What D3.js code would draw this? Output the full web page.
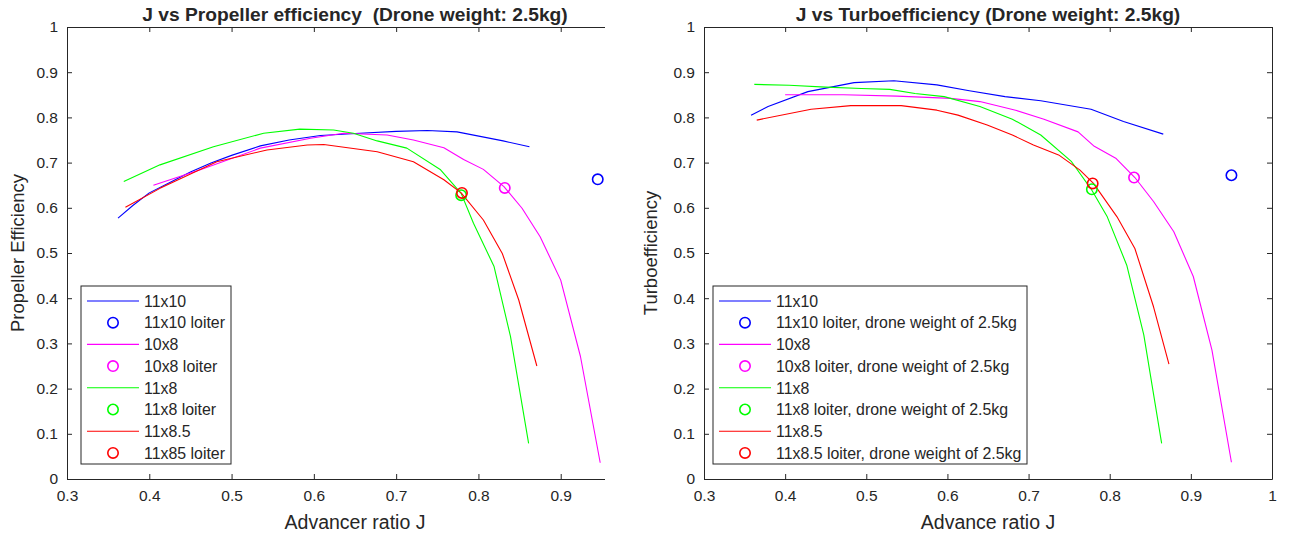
<!DOCTYPE html>
<html>
<head>
<meta charset="utf-8">
<script src="https://cdn.jsdelivr.net/npm/d3@7"></script>
<style>
  body { margin: 0; background: #fff; }
  svg { display: block; font-family: "Liberation Sans", Arial, sans-serif; }
</style>
</head>
<body>
<svg id="chart" width="1290" height="535"></svg>
<script>
// Advance ratio J vs propeller efficiency, drone weight 2.5 kg
const prop11x10 = [[0.362,0.577],[0.38,0.605],[0.40,0.633],[0.425,0.656],[0.45,0.679],[0.475,0.699],[0.50,0.716],[0.535,0.737],[0.57,0.750],[0.608,0.760],[0.656,0.765],[0.70,0.769],[0.738,0.771],[0.774,0.768],[0.802,0.758],[0.83,0.748],[0.862,0.735]];
const prop10x8 = [[0.405,0.650],[0.462,0.684],[0.535,0.732],[0.596,0.754],[0.636,0.765],[0.689,0.761],[0.721,0.750],[0.758,0.733],[0.782,0.707],[0.806,0.685],[0.831,0.647],[0.853,0.599],[0.875,0.536],[0.90,0.440],[0.924,0.271],[0.948,0.036]];
const prop11x8 = [[0.369,0.658],[0.413,0.695],[0.478,0.735],[0.539,0.765],[0.583,0.774],[0.624,0.772],[0.648,0.765],[0.677,0.748],[0.713,0.732],[0.754,0.684],[0.779,0.632],[0.794,0.566],[0.819,0.470],[0.839,0.315],[0.861,0.079]];
const prop11x85 = [[0.371,0.601],[0.413,0.643],[0.482,0.702],[0.543,0.728],[0.592,0.739],[0.612,0.740],[0.677,0.724],[0.721,0.702],[0.758,0.662],[0.779,0.633],[0.806,0.573],[0.829,0.499],[0.849,0.396],[0.871,0.250]];
const propLoiter = [[0.945,0.663],[0.832,0.644],[0.779,0.628],[0.780,0.633]];

// Advance ratio J vs turboefficiency, drone weight 2.5 kg
const turbo11x10 = [[0.358,0.805],[0.379,0.824],[0.428,0.857],[0.485,0.877],[0.534,0.881],[0.587,0.872],[0.627,0.859],[0.671,0.846],[0.715,0.837],[0.777,0.818],[0.817,0.791],[0.866,0.763]];
const turbo10x8 = [[0.400,0.850],[0.472,0.850],[0.538,0.847],[0.604,0.842],[0.640,0.835],[0.684,0.816],[0.719,0.796],[0.761,0.768],[0.781,0.736],[0.808,0.709],[0.831,0.667],[0.854,0.614],[0.879,0.547],[0.903,0.448],[0.926,0.285],[0.950,0.037]];
const turbo11x8 = [[0.362,0.873],[0.405,0.871],[0.450,0.867],[0.494,0.864],[0.529,0.862],[0.560,0.853],[0.596,0.846],[0.640,0.824],[0.680,0.796],[0.715,0.761],[0.753,0.702],[0.778,0.639],[0.797,0.580],[0.821,0.473],[0.842,0.319],[0.864,0.079]];
const turbo11x85 = [[0.365,0.794],[0.432,0.818],[0.481,0.826],[0.543,0.826],[0.587,0.816],[0.613,0.805],[0.649,0.783],[0.680,0.761],[0.706,0.739],[0.737,0.717],[0.763,0.684],[0.780,0.654],[0.809,0.580],[0.831,0.510],[0.854,0.381],[0.873,0.254]];
const turboLoiter = [[0.950,0.672],[0.830,0.667],[0.778,0.641],[0.779,0.654]];

const seriesColors = ["#0000ff", "#ff00ff", "#00ff00", "#ff0000"];
const yTicks = [0, 0.1, 0.2, 0.3, 0.4, 0.5, 0.6, 0.7, 0.8, 0.9, 1];
const xTicks = [0.3, 0.4, 0.5, 0.6, 0.7, 0.8, 0.9, 1];
const legendLeft = ["11x10", "11x10 loiter", "10x8", "10x8 loiter", "11x8", "11x8 loiter", "11x8.5", "11x85 loiter"];
const legendRight = ["11x10", "11x10 loiter, drone weight of 2.5kg", "10x8", "10x8 loiter, drone weight of 2.5kg", "11x8", "11x8 loiter, drone weight of 2.5kg", "11x8.5", "11x8.5 loiter, drone weight of 2.5kg"];

const ink = "#262626";
const svg = d3.select("#chart");

function panel(opt) {
  const x = d3.scaleLinear().domain([0.3, 1]).range([opt.left, opt.right]);
  const y = d3.scaleLinear().domain([0, 1]).range([479, 27]);
  const g = svg.append("g");

  // the left panel is cut off on its right side
  const clipId = "clip-" + opt.id;
  svg.append("clipPath").attr("id", clipId).append("rect")
    .attr("x", 0).attr("y", 0).attr("width", opt.clipRight).attr("height", 535);
  const body = g.append("g").attr("clip-path", `url(#${clipId})`);

  // axes with inward ticks
  const styleAxis = sel => {
    sel.select(".domain").attr("stroke", ink).attr("stroke-width", 1);
    sel.selectAll(".tick line").attr("stroke", ink);
    sel.selectAll(".tick text").attr("fill", ink).attr("font-size", 15.5)
      .attr("font-family", "Liberation Sans, Arial, sans-serif");
  };
  body.append("g").attr("transform", `translate(0,${y(0)})`)
    .call(d3.axisBottom(x).tickValues(xTicks).tickSize(-5).tickSizeOuter(0).tickPadding(11).tickFormat(d3.format("")))
    .call(styleAxis);
  body.append("g").attr("transform", `translate(0,${y(1)})`)
    .call(d3.axisTop(x).tickValues(xTicks).tickSize(-5).tickSizeOuter(0).tickFormat(""))
    .call(styleAxis);
  body.append("g").attr("transform", `translate(${opt.left},0)`)
    .call(d3.axisLeft(y).tickValues(yTicks).tickSize(-5).tickSizeOuter(0).tickPadding(9).tickFormat(d3.format("")))
    .call(styleAxis);
  body.append("g").attr("transform", `translate(${opt.right},0)`)
    .call(d3.axisRight(y).tickValues(yTicks).tickSize(-5).tickSizeOuter(0).tickFormat(""))
    .call(styleAxis);

  // curves
  const line = d3.line().x(d => x(d[0])).y(d => y(d[1]));
  opt.curves.forEach((c, i) => {
    body.append("path").datum(c).attr("d", line)
      .attr("fill", "none").attr("stroke", seriesColors[i]).attr("stroke-width", 1.1)
      .attr("stroke-linejoin", "round");
  });
  // loiter points
  body.selectAll(".loiter").data(opt.loiter).join("circle")
    .attr("cx", d => x(d[0])).attr("cy", d => y(d[1])).attr("r", 5.2)
    .attr("fill", "none").attr("stroke", (d, i) => seriesColors[i]).attr("stroke-width", 1.6);

  // titles
  const cx = (opt.left + opt.right) / 2;
  g.append("text").attr("x", cx).attr("y", 21).attr("text-anchor", "middle")
    .attr("font-size", 19.2).attr("font-weight", "bold").attr("fill", ink)
    .attr("xml:space", "preserve").style("white-space", "pre").text(opt.title);
  g.append("text").attr("x", cx).attr("y", 529).attr("text-anchor", "middle")
    .attr("font-size", 19.5).attr("fill", ink).text(opt.xLabel);
  g.append("text").attr("transform", `translate(${opt.yLabelX},253) rotate(-90)`)
    .attr("text-anchor", "middle").attr("font-size", 18.5).attr("fill", ink).text(opt.yLabel);

  // legend
  const L = opt.legend;
  g.append("rect").attr("x", L.x).attr("y", 286).attr("width", L.w).attr("height", 178)
    .attr("fill", "#fff").attr("stroke", ink).attr("stroke-width", 1);
  const rowY = i => 301 + i * 21.7;
  opt.legendText.forEach((t, i) => {
    const s = Math.floor(i / 2), yy = rowY(i);
    if (i % 2 === 0) {
      g.append("line").attr("x1", L.x + 6).attr("x2", L.x + 58).attr("y1", yy).attr("y2", yy)
        .attr("stroke", seriesColors[s]).attr("stroke-width", 1.1);
    } else {
      g.append("circle").attr("cx", L.x + 32).attr("cy", yy).attr("r", 5.2)
        .attr("fill", "none").attr("stroke", seriesColors[s]).attr("stroke-width", 1.6);
    }
    g.append("text").attr("x", L.x + 63).attr("y", yy + 5.7).attr("font-size", 15.9)
      .attr("fill", ink).text(t);
  });
}

panel({
  id: "prop", left: 67, right: 643, clipRight: 605,
  curves: [prop11x10, prop10x8, prop11x8, prop11x85], loiter: propLoiter,
  title: "J vs Propeller efficiency  (Drone weight: 2.5kg)",
  xLabel: "Advancer ratio J", yLabel: "Propeller Efficiency", yLabelX: 24,
  legend: { x: 81, w: 150 }, legendText: legendLeft
});
panel({
  id: "turbo", left: 704, right: 1272, clipRight: 1290,
  curves: [turbo11x10, turbo10x8, turbo11x8, turbo11x85], loiter: turboLoiter,
  title: "J vs Turboefficiency (Drone weight: 2.5kg)",
  xLabel: "Advance ratio J", yLabel: "Turboefficiency", yLabelX: 657,
  legend: { x: 713, w: 314 }, legendText: legendRight
});
</script>
</body>
</html>
